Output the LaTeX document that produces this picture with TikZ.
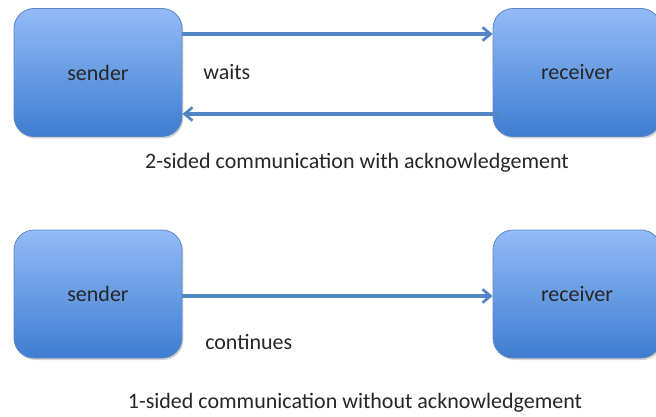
\documentclass[tikz,border=0pt]{standalone}
\usepackage{fontspec}
\setmainfont{Carlito}
\usetikzlibrary{shadows,arrows.meta}
\definecolor{boxtop}{HTML}{93BBF7}
\definecolor{boxbot}{HTML}{3F7DD0}
\definecolor{boxline}{HTML}{5A86C4}
\definecolor{arrowc}{HTML}{5285C4}
\definecolor{txt}{HTML}{262626}
\tikzset{
  procbox/.style={draw=boxline, line width=0.6pt, rounded corners=15pt,
    top color=boxtop, bottom color=boxbot, minimum width=126pt, minimum height=96pt,
    font=\fontsize{16.5}{18}\selectfont, text=txt,
    drop shadow={shadow xshift=1pt, shadow yshift=-1.5pt, opacity=0.35}},
  link/.style={draw=arrowc, line width=2.3pt, -{Straight Barb[length=6pt,width=10pt,line width=2pt]}},
  lbl/.style={font=\fontsize{16.5}{18}\selectfont, text=txt, inner sep=0pt},
  captxt/.style={font=\fontsize{16.5}{18}\selectfont, text=txt, inner sep=0pt}
}
\begin{document}
\begin{tikzpicture}[x=0.75pt,y=-0.75pt]
\useasboundingbox (0,0) rectangle (656,417);
\node[procbox] (s1) at (98,72.5) {sender};
\node[procbox] (r1) at (577,72.5) {receiver};
\node[procbox] (s2) at (98,294) {sender};
\node[procbox] (r2) at (577,294) {receiver};
\coordinate (a1) at (182,34);
\coordinate (b1) at (499,114);
\coordinate (c2) at (182,296);
\draw[link] (a1) -- (a1 -| r1.west);
\draw[link] (b1) -- (b1 -| s1.east);
\draw[link] (c2) -- (c2 -| r2.west);
\node[lbl, anchor=west] (w) at (203,72) {waits};
\node[lbl, anchor=west] (c) at (205,342) {continues};
\node[captxt] (cap1) at (357,163) {2-sided communication with acknowledgement};
\node[captxt] (cap2) at (355,403) {1-sided communication without acknowledgement};
\end{tikzpicture}
\end{document}
